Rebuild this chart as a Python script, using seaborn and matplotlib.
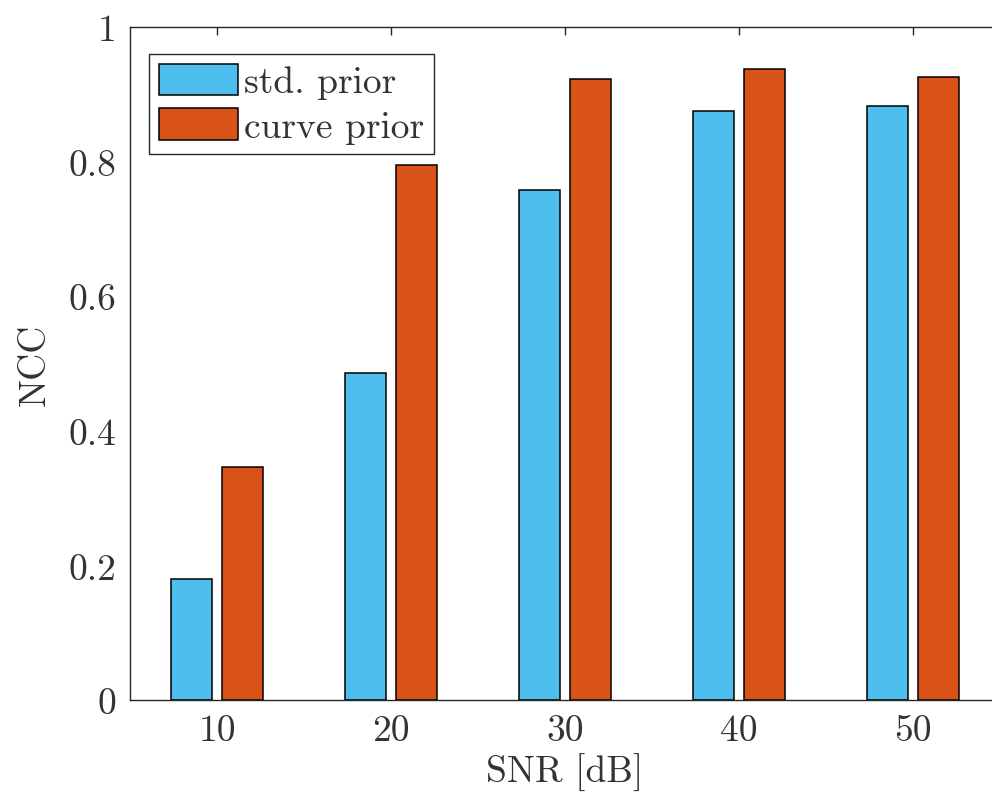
import matplotlib
matplotlib.use("Agg")
import matplotlib.pyplot as plt
import seaborn as sns
import pandas as pd

snr_labels = ["10", "20", "30", "40", "50"]
std_prior = [0.180, 0.486, 0.758, 0.875, 0.883]
curve_prior = [0.346, 0.795, 0.923, 0.938, 0.925]
series_names = ["std. prior", "curve prior"]
y_ticks = [0, 0.2, 0.4, 0.6, 0.8, 1]
y_tick_labels = ["0", "0.2", "0.4", "0.6", "0.8", "1"]

df = pd.DataFrame({
    "SNR": snr_labels * 2,
    "NCC": std_prior + curve_prior,
    "method": [series_names[0]] * len(snr_labels) + [series_names[1]] * len(snr_labels),
})

sns.set_theme(style="white")
plt.rcParams["font.family"] = ["cmr10", "DejaVu Serif"]
plt.rcParams["axes.formatter.use_mathtext"] = True
plt.rcParams["axes.unicode_minus"] = False

fig = plt.figure(figsize=(9.92, 8.03), dpi=100)
ax = fig.add_axes([130 / 992, (803 - 701) / 803, 870 / 992, 673 / 803])

sns.barplot(data=df, x="SNR", y="NCC", hue="method", order=snr_labels,
            hue_order=series_names, palette=["#4DBEEE", "#D95319"],
            width=0.584, gap=0.2, edgecolor="black", linewidth=1.1,
            saturation=1, ax=ax, errorbar=None)

ax.set_xlim(-0.5, 4.5)
ax.set_ylim(0, 1)
ax.set_yticks(y_ticks)
ax.set_yticklabels(y_tick_labels)
ax.set_xticks(range(len(snr_labels)))
ax.set_xticklabels(snr_labels)

fs = 27
txt_color = "#333333"
ax.tick_params(axis="both", which="both", direction="in", length=6, width=1,
               colors="#262626", labelsize=fs, top=True, right=True, pad=10)
for lab in ax.get_xticklabels() + ax.get_yticklabels():
    lab.set_color(txt_color)
for sp in ax.spines.values():
    sp.set_visible(True)
    sp.set_color("#262626")
    sp.set_linewidth(1.0)

ax.set_xlabel("SNR [dB]", fontsize=fs, color=txt_color, labelpad=4)
ax.set_ylabel("NCC", fontsize=fs, color=txt_color, labelpad=12)

leg = ax.legend(loc="upper left", bbox_to_anchor=(19 / 870, 1 - 27 / 673),
                borderaxespad=0, fontsize=fs, frameon=True, fancybox=False,
                framealpha=1, edgecolor="#262626", handlelength=2.1,
                handleheight=0.92, handletextpad=0.18, labelspacing=0.24,
                borderpad=0.26)
leg.get_frame().set_linewidth(1.0)
for t in leg.get_texts():
    t.set_color(txt_color)

fig.savefig("out.png", dpi=100)
